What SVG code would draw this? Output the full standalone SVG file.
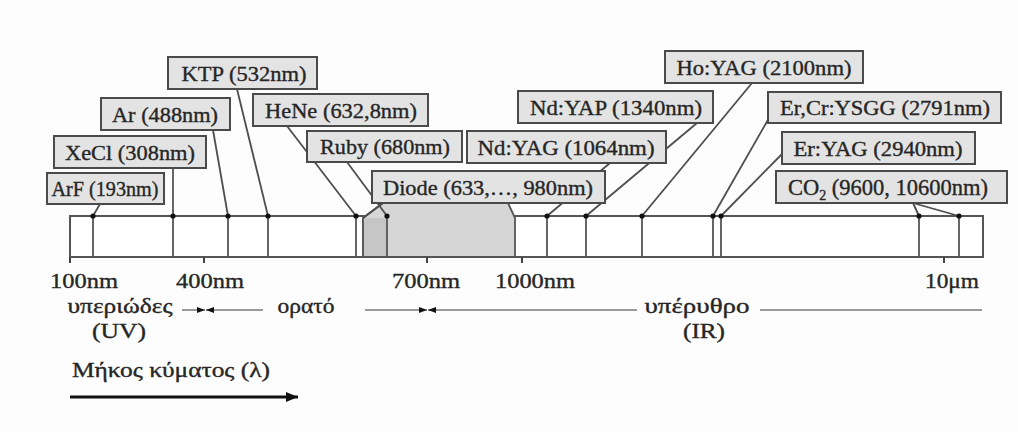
<svg xmlns="http://www.w3.org/2000/svg" width="1018" height="432" viewBox="0 0 1018 432">
<defs>
<style>
.box{fill:#e3e3e3;stroke:#4a4a4a;stroke-width:2}
.lbl{font-family:"Liberation Serif","Times New Roman",Times,serif;font-size:21px;fill:#262626;stroke:#262626;stroke-width:0.35;text-anchor:middle}
.ax{font-family:"Liberation Serif","Times New Roman",Times,serif;font-size:21px;fill:#262626;stroke:#262626;stroke-width:0.35;text-anchor:middle}
.ld{stroke:#4e4e4e;stroke-width:1.8;fill:none}
.vl{stroke:#555;stroke-width:1.8}
.tick{stroke:#444;stroke-width:2}
.rg{stroke:#777;stroke-width:1.5;fill:none}
.dot{fill:#111}
</style>
<marker id="sa" viewBox="0 0 8 6" refX="8" refY="3" markerWidth="8" markerHeight="6" markerUnits="userSpaceOnUse" orient="auto">
<path d="M0,0 L8,3 L0,6 Z" fill="#111"/>
</marker>
<marker id="ba" viewBox="0 0 12 10" refX="12" refY="5" markerWidth="12" markerHeight="10" markerUnits="userSpaceOnUse" orient="auto">
<path d="M0,0 L12,5 L0,10 Z" fill="#111"/>
</marker>
</defs>
<rect x="0" y="0" width="1018" height="432" fill="#fdfdfd"/>

<g id="spectrum-bar">
<rect x="70" y="216" width="913" height="41" fill="#ffffff" stroke="#555" stroke-width="2"/>
<polygon points="363,257 363,218 383,203 508,203 515,218 515,257" fill="#d6d6d6" stroke="#555" stroke-width="1.8"/>
<rect x="363" y="218" width="24" height="39" fill="#c6c6c6"/>
<line x1="363" y1="218" x2="363" y2="257" class="vl"/>
<line x1="70" y1="257" x2="983" y2="257" stroke="#555" stroke-width="2"/>
</g>

<g id="connectors">
<line class="vl" x1="93" y1="216" x2="93" y2="257"/>
<line class="vl" x1="173" y1="168" x2="173" y2="257"/>
<line class="vl" x1="228" y1="216" x2="228" y2="257"/>
<line class="vl" x1="268" y1="216" x2="268" y2="257"/>
<line class="vl" x1="356" y1="216" x2="356" y2="257"/>
<line class="vl" x1="387" y1="216" x2="387" y2="257"/>
<line class="vl" x1="547" y1="216" x2="547" y2="257"/>
<line class="vl" x1="586" y1="216" x2="586" y2="257"/>
<line class="vl" x1="642" y1="216" x2="642" y2="257"/>
<line class="vl" x1="713" y1="216" x2="713" y2="257"/>
<line class="vl" x1="721" y1="216" x2="721" y2="257"/>
<line class="vl" x1="919" y1="216" x2="919" y2="257"/>
<line class="vl" x1="959" y1="216" x2="959" y2="257"/>
<line class="ld" x1="100" y1="204" x2="93" y2="216"/>
<line class="ld" x1="213" y1="130" x2="228" y2="216"/>
<line class="ld" x1="237" y1="89" x2="268" y2="216"/>
<line class="ld" x1="287" y1="126" x2="356" y2="216"/>
<line class="ld" x1="347" y1="162" x2="387" y2="216"/>
<line class="ld" x1="383" y1="203" x2="363" y2="218"/>
<line class="ld" x1="610" y1="163" x2="547" y2="216"/>
<line class="ld" x1="697" y1="123" x2="586" y2="216"/>
<line class="ld" x1="752" y1="83" x2="642" y2="216"/>
<line class="ld" x1="769" y1="118" x2="713" y2="216"/>
<line class="ld" x1="783" y1="153" x2="721" y2="216"/>
<line class="ld" x1="913" y1="203" x2="919" y2="216"/>
<line class="ld" x1="913" y1="203" x2="959" y2="216"/>
</g>

<g id="node-ktp"><rect class="box" x="168" y="57" width="149" height="32"/><text class="lbl" x="244" y="81" textLength="125" lengthAdjust="spacingAndGlyphs">KTP (532nm)</text></g>
<g id="node-ar"><rect class="box" x="101" y="98" width="129" height="32"/><text class="lbl" x="165" y="122" textLength="106" lengthAdjust="spacingAndGlyphs">Ar (488nm)</text></g>
<g id="node-xecl"><rect class="box" x="54" y="136" width="152" height="32"/><text class="lbl" x="130" y="160" textLength="130" lengthAdjust="spacingAndGlyphs">XeCl (308nm)</text></g>
<g id="node-arf"><rect class="box" x="47" y="173" width="117" height="31"/><text class="lbl" x="105" y="196" textLength="107" lengthAdjust="spacingAndGlyphs">ArF (193nm)</text></g>
<g id="node-hene"><rect class="box" x="253" y="94" width="175" height="32"/><text class="lbl" x="341" y="118" textLength="152" lengthAdjust="spacingAndGlyphs">HeNe (632,8nm)</text></g>
<g id="node-ruby"><rect class="box" x="307" y="131" width="155" height="31"/><text class="lbl" x="385" y="154" textLength="130" lengthAdjust="spacingAndGlyphs">Ruby (680nm)</text></g>
<g id="node-ndyag"><rect class="box" x="467" y="131" width="199" height="32"/><text class="lbl" x="566" y="155" textLength="177" lengthAdjust="spacingAndGlyphs">Nd:YAG (1064nm)</text></g>
<g id="node-diode"><rect class="box" x="372" y="171" width="233" height="32"/><text class="lbl" x="488" y="195" textLength="210" lengthAdjust="spacingAndGlyphs">Diode (633,…, 980nm)</text></g>
<g id="node-ndyap"><rect class="box" x="518" y="91" width="195" height="32"/><text class="lbl" x="616" y="115" textLength="172" lengthAdjust="spacingAndGlyphs">Nd:YAP (1340nm)</text></g>
<g id="node-hoyag"><rect class="box" x="665" y="51" width="198" height="32"/><text class="lbl" x="764" y="75" textLength="175" lengthAdjust="spacingAndGlyphs">Ho:YAG (2100nm)</text></g>
<g id="node-ercrysgg"><rect class="box" x="768" y="92" width="233" height="31"/><text class="lbl" x="885" y="115" textLength="210" lengthAdjust="spacingAndGlyphs">Er,Cr:YSGG (2791nm)</text></g>
<g id="node-eryag"><rect class="box" x="782" y="132" width="193" height="32"/><text class="lbl" x="878" y="156" textLength="169" lengthAdjust="spacingAndGlyphs">Er:YAG (2940nm)</text></g>
<g id="node-co2"><rect class="box" x="776" y="171" width="231" height="32"/><text class="lbl" x="888" y="195" style="font-size:22.5px">CO<tspan style="font-size:14px" dy="5">2</tspan><tspan dy="-5"> (9600, 10600nm)</tspan></text></g>

<g id="dots">
<circle class="dot" cx="93" cy="216" r="2.6"/>
<circle class="dot" cx="173" cy="216" r="2.6"/>
<circle class="dot" cx="228" cy="216" r="2.6"/>
<circle class="dot" cx="268" cy="216" r="2.6"/>
<circle class="dot" cx="356" cy="216" r="2.6"/>
<circle class="dot" cx="387" cy="216" r="2.6"/>
<circle class="dot" cx="547" cy="216" r="2.6"/>
<circle class="dot" cx="586" cy="216" r="2.6"/>
<circle class="dot" cx="642" cy="216" r="2.6"/>
<circle class="dot" cx="713" cy="216" r="2.6"/>
<circle class="dot" cx="721" cy="216" r="2.6"/>
<circle class="dot" cx="919" cy="216" r="2.6"/>
<circle class="dot" cx="959" cy="216" r="2.6"/>
</g>

<g id="axis">
<line class="tick" x1="70" y1="257" x2="70" y2="263"/>
<line class="tick" x1="204" y1="257" x2="204" y2="263"/>
<line class="tick" x1="427" y1="257" x2="427" y2="263"/>
<line class="tick" x1="522" y1="257" x2="522" y2="263"/>
<line class="tick" x1="944" y1="257" x2="944" y2="263"/>
<text class="ax" x="84" y="288" textLength="68" lengthAdjust="spacingAndGlyphs">100nm</text>
<text class="ax" x="210" y="288" textLength="68" lengthAdjust="spacingAndGlyphs">400nm</text>
<text class="ax" x="426" y="288" textLength="68" lengthAdjust="spacingAndGlyphs">700nm</text>
<text class="ax" x="535" y="288" textLength="80" lengthAdjust="spacingAndGlyphs">1000nm</text>
<text class="ax" x="952" y="288" textLength="54" lengthAdjust="spacingAndGlyphs">10μm</text>
</g>

<g id="regions">
<text class="ax" x="120" y="313" textLength="105" lengthAdjust="spacingAndGlyphs">υπεριώδες</text>
<text class="ax" x="119" y="338" textLength="54" lengthAdjust="spacingAndGlyphs">(UV)</text>
<text class="ax" x="306" y="313" textLength="57" lengthAdjust="spacingAndGlyphs">ορατό</text>
<text class="ax" x="697" y="313" textLength="105" lengthAdjust="spacingAndGlyphs">υπέρυθρο</text>
<text class="ax" x="704" y="338" textLength="42" lengthAdjust="spacingAndGlyphs">(IR)</text>
<line class="rg" x1="182" y1="310" x2="205" y2="310" marker-end="url(#sa)"/>
<line class="rg" x1="263" y1="310" x2="206" y2="310" marker-end="url(#sa)"/>
<line class="rg" x1="365" y1="310" x2="427" y2="310" marker-end="url(#sa)"/>
<line class="rg" x1="637" y1="310" x2="428" y2="310" marker-end="url(#sa)"/>
<line class="rg" x1="760" y1="310" x2="982" y2="310"/>
</g>

<g id="wavelength-arrow">
<text class="ax" x="171" y="377" textLength="198" lengthAdjust="spacingAndGlyphs">Μήκος κύματος (λ)</text>
<line x1="70" y1="397" x2="298" y2="397" stroke="#111" stroke-width="3" marker-end="url(#ba)"/>
</g>
</svg>
